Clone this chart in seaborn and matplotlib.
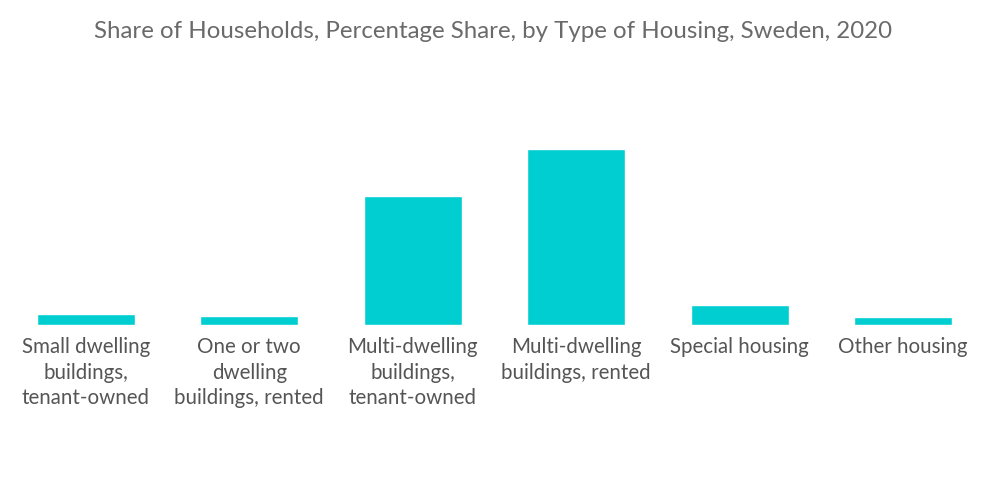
import matplotlib.pyplot as plt
import seaborn as sns
import pandas as pd

# values (percent share)
categories = [
    "Small dwelling\nbuildings,\ntenant-owned",
    "One or two\ndwelling\nbuildings, rented",
    "Multi-dwelling\nbuildings,\ntenant-owned",
    "Multi-dwelling\nbuildings, rented",
    "Special housing",
    "Other housing",
]
shares = [2.0, 1.6, 23.0, 31.5, 3.6, 1.4]

df = pd.DataFrame({"housing": categories, "share": shares})

sns.set_theme(style="white")
plt.rcParams["font.family"] = ["Lato", "DejaVu Sans"]

fig = plt.figure(figsize=(10, 5.04), dpi=100)
ax = fig.add_axes([0.004, 0.3552, 0.981, 0.4435])

sns.barplot(data=df, x="housing", y="share", color="#00CED1", saturation=1,
            width=0.6, ax=ax)

ax.set_xlim(-0.5, 5.5)
ax.set_ylim(0, 40)
ax.set_xlabel("")
ax.set_ylabel("")
ax.set_yticks([])
ax.set_xticks(range(len(categories)))
ax.set_xticklabels(categories, linespacing=1.34, fontsize=14.8, color="#555555")
ax.tick_params(axis="x", length=0, pad=9)
sns.despine(ax=ax, left=True, bottom=True)

fig.text(0.493, 0.937, "Share of Households, Percentage Share, by Type of Housing, Sweden, 2020",
         ha="center", va="center", fontsize=17.3, color="#6a6a6a")

fig.savefig("out.png", dpi=100)
plt.close(fig)
